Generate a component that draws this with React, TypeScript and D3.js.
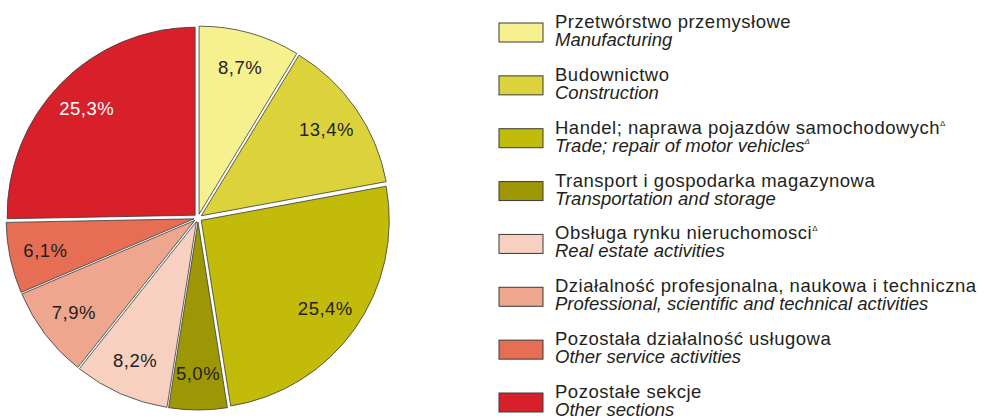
import React from 'react'
import * as d3 from 'd3'

const shares = [8.7, 13.4, 25.4, 5.0, 8.2, 7.9, 6.1, 25.3]
const shareLabels = ['8,7%', '13,4%', '25,4%', '5,0%', '8,2%', '7,9%', '6,1%', '25,3%']
const namesPl = [
  'Przetwórstwo przemysłowe',
  'Budownictwo',
  'Handel; naprawa pojazdów samochodowych',
  'Transport i gospodarka magazynowa',
  'Obsługa rynku nieruchomosci',
  'Działalność profesjonalna, naukowa i techniczna',
  'Pozostała działalność usługowa',
  'Pozostałe sekcje'
]
const namesEn = [
  'Manufacturing',
  'Construction',
  'Trade; repair of motor vehicles',
  'Transportation and storage',
  'Real estate activities',
  'Professional, scientific and technical activities',
  'Other service activities',
  'Other sections'
]
// which legend lines carry the delta mark
const deltaPl = [false, false, true, false, true, false, false, false]
const deltaEn = [false, false, true, false, false, false, false, false]
const colors = ['#f7f08f', '#dcd33c', '#c3bb0a', '#9d9706', '#f7d0c0', '#eea68e', '#e56e55', '#d8202a']

const W = 988
const H = 420
const cx = 198
const cy = 218
const R = 188
const explode = 4
const font = '"Liberation Sans", Arial, sans-serif'
const ink = '#231f20'

export default function App() {
  const pie = d3.pie<number>().sort(null).value(d => d)
  const arcs = pie(shares)
  const arc = d3.arc<d3.PieArcDatum<number>>().innerRadius(0).outerRadius(R)
  const labelR = 152

  const legendY = d3.scaleLinear().domain([0, namesPl.length - 1]).range([23, 393])

  return (
    <svg width={W} height={H} style={{ position: 'absolute', left: 0, top: 0, background: '#fff' }}
      fontFamily={font}>
      <g transform={`translate(${cx},${cy})`}>
        {arcs.map((a, i) => {
          const mid = (a.startAngle + a.endAngle) / 2
          const ox = explode * Math.sin(mid)
          const oy = -explode * Math.cos(mid)
          const lx = labelR * Math.sin(mid)
          const ly = -labelR * Math.cos(mid)
          return (
            <g key={i} transform={`translate(${ox},${oy})`}>
              <path d={arc(a) || ''} fill={colors[i]} stroke="#3a3a3a" strokeWidth={0.8} />
              <text x={lx} y={ly} dy="0.35em" textAnchor="middle" fontSize={18.5} letterSpacing={0.5}
                fill={i === 7 ? '#fff' : ink}>{shareLabels[i]}</text>
            </g>
          )
        })}
      </g>
      <g>
        {namesPl.map((n, i) => {
          const y = legendY(i)
          return (
            <g key={i}>
              <rect x={499} y={y} width={44} height={19} fill={colors[i]} stroke="#3a3a3a" strokeWidth={1} />
              <text x={555} y={y + 5} fontSize={18.5} letterSpacing={0.5} fill={ink}>
                {n}
                {deltaPl[i] && <tspan fontSize={8} dy={-8}>Δ</tspan>}
              </text>
              <text x={555} y={y + 23} fontSize={18.5} fontStyle="italic" fill={ink}>
                {namesEn[i]}
                {deltaEn[i] && <tspan fontSize={8} dy={-8}>Δ</tspan>}
              </text>
            </g>
          )
        })}
      </g>
    </svg>
  )
}
